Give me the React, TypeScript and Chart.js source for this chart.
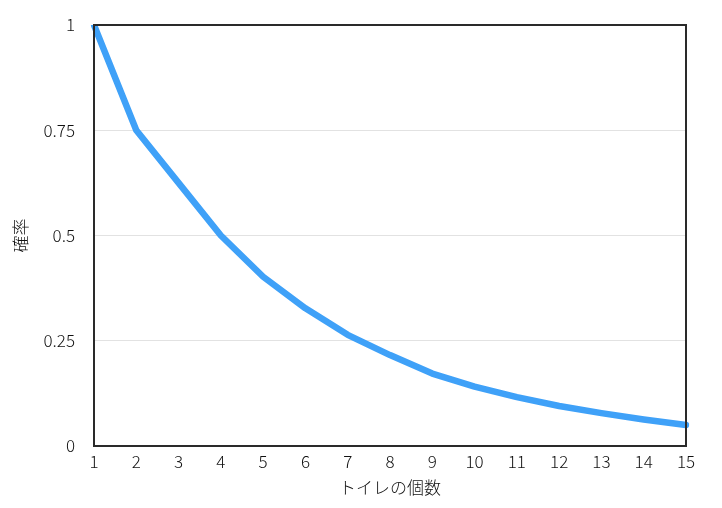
import React, { useEffect, useRef } from "react";
import { Chart, registerables } from "chart.js";

Chart.register(...registerables);

const categories: string[] = ["1", "2", "3", "4", "5", "6", "7", "8", "9", "10", "11", "12", "13", "14", "15"];
const probabilities: number[] = [1, 0.75, 0.625, 0.5, 0.402, 0.327, 0.264, 0.216, 0.172, 0.141, 0.116, 0.095, 0.078, 0.063, 0.05];
const yTickValues: number[] = [0, 0.25, 0.5, 0.75, 1];
const yTickLabels: string[] = ["0", "0.25", "0.5", "0.75", "1"];
const xTitle = "トイレの個数";
const yTitle = "確率";

const FONT = "'Noto Sans CJK JP', 'Noto Sans', sans-serif";
const tickFont = { family: FONT, size: 17, weight: 300 as any };

const framePlugin = {
  id: "frame",
  afterDatasetsDraw(chart: any) {
    const { ctx, chartArea } = chart;
    ctx.save();
    ctx.strokeStyle = "#2a2a2a";
    ctx.lineWidth = 2;
    ctx.strokeRect(chartArea.left, chartArea.top, chartArea.right - chartArea.left, chartArea.bottom - chartArea.top);
    ctx.restore();
  },
};

export default function App() {
  const ref = useRef<HTMLCanvasElement | null>(null);

  useEffect(() => {
    document.body.style.margin = "0";
    if (!ref.current) return;
    const chart = new Chart(ref.current, {
      type: "line",
      data: {
        labels: categories,
        datasets: [
          {
            data: probabilities,
            borderColor: "#3fa1f8",
            borderWidth: 6.5,
            pointRadius: 0,
            tension: 0,
            fill: false,
            borderCapStyle: "round",
            borderJoinStyle: "round",
          },
        ],
      },
      options: {
        animation: false,
        responsive: false,
        devicePixelRatio: 1,
        layout: { padding: { left: 0, right: 36, top: 25, bottom: 7 } },
        plugins: { legend: { display: false }, tooltip: { enabled: false } },
        scales: {
          x: {
            offset: false,
            grid: { display: false, drawTicks: false },
            border: { display: false },
            ticks: { color: "#111", font: tickFont, padding: 5, maxRotation: 0, autoSkip: false },
            title: { display: true, text: xTitle, color: "#111", font: tickFont, padding: { top: 0, bottom: 3 } },
            afterFit: (s: any) => { s.height = 55; s.paddingLeft = 0; s.paddingRight = 0; },
          },
          y: {
            min: 0,
            max: 1,
            afterBuildTicks: (s: any) => { s.ticks = yTickValues.map((v) => ({ value: v })); },
            grid: { color: "#e2e2e2", lineWidth: 1, drawTicks: false },
            border: { display: false },
            ticks: {
              color: "#111",
              font: tickFont,
              padding: 19,
              callback: (v: any) => {
                const i = yTickValues.indexOf(Number(v));
                return i >= 0 ? yTickLabels[i] : "";
              },
            },
            title: { display: true, text: yTitle, color: "#111", font: tickFont, padding: { top: 10, bottom: 0 } },
            afterFit: (s: any) => { s.width = 94; s.paddingTop = 0; s.paddingBottom = 0; },
          },
        },
      },
      plugins: [framePlugin],
    });
    return () => chart.destroy();
  }, []);

  return (
    <div style={{ width: 722, height: 508 }}>
      <canvas ref={ref} width={722} height={508} style={{ display: "block" }} />
    </div>
  );
}
